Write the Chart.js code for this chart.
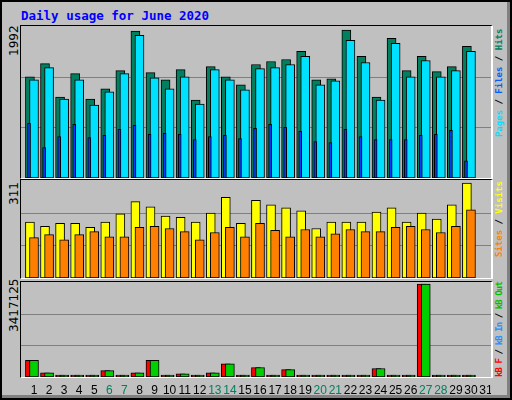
<!DOCTYPE html>
<html>
<head>
<meta charset="utf-8">
<script src="https://cdn.jsdelivr.net/npm/chart.js@4/dist/chart.umd.min.js"></script>
<style>
  body { margin: 0; background: #fff; }
  #frame { position: absolute; left: 0; top: 0; width: 508px; height: 396px; background: #C0C0C0;
           border: 2px solid #000; box-shadow: inset -3px -3px 0 #808080; overflow: hidden; }
  .title { position: absolute; left: 19px; top: 6px; font: bold 12.5px "DejaVu Sans Mono", monospace; color: #0000FF; }
  .panel { position: absolute; left: 18px; width: 470px; border-top: 1px solid #000; border-left: 1px solid #000;
           border-right: 2px solid #fff; border-bottom: 1px solid #fff; }
  .panel canvas { position: absolute; left: 0; top: 0; }
  .vtick { position: absolute; transform-origin: 0 0; transform: rotate(-90deg); font: 12px "DejaVu Sans", sans-serif; color: #000; white-space: nowrap; }
  .vlabel { position: absolute; transform-origin: 0 0; transform: rotate(-90deg); font: bold 9px "DejaVu Sans Mono", monospace; white-space: nowrap; }
</style>
</head>
<body>
<div id="frame">
  <div class="title">Daily usage for June 2020</div>
  <div class="panel" style="top:23px;height:152px"><canvas id="c1"></canvas></div>
  <div class="panel" style="top:177px;height:98px"><canvas id="c2"></canvas></div>
  <div class="panel" style="top:279px;height:95px"><canvas id="c3"></canvas></div>
  <div class="vtick" style="left:5px;top:54px">1992</div>
  <div class="vtick" style="left:5px;top:203px">311</div>
  <div class="vtick" style="left:5px;top:330px">3417125</div>
  <div class="vlabel" style="left:492px;top:135px"><span style="color:#00E0FF">Pages</span> / <span style="color:#0060FF">Files</span> / <span style="color:#00805F">Hits</span></div>
  <div class="vlabel" style="left:492px;top:255px"><span style="color:#FF8000">Sites</span> / <span style="color:#FFFF00">Visits</span></div>
  <div class="vlabel" style="left:492px;top:375px;letter-spacing:-0.9px"><span style="color:#FF0000">kB F</span> / <span style="color:#1E90FF">kB In</span> / <span style="color:#00C000">kB Out</span></div>
</div>
<script>
const days = Array.from({ length: 30 }, (_, i) => i + 1);
const dayLabels = ["1","2","3","4","5","6","7","8","9","10","11","12","13","14","15","16","17","18","19","20","21","22","23","24","25","26","27","28","29","30","31"];
const weekendDays = [6, 7, 13, 14, 20, 21, 27, 28];

const hits = [1364,1541,1091,1405,1064,1200,1446,1980,1419,1323,1460,1050,1500,1364,1255,1528,1569,1596,1705,1323,1337,1992,1637,1091,1882,1446,1637,1432,1500,1773];
const files = [1323,1487,1064,1323,982,1159,1405,1923,1350,1200,1364,996,1459,1323,1187,1473,1487,1528,1637,1255,1309,1855,1555,1050,1814,1364,1582,1364,1446,1705];
const pages = [737,409,559,723,546,573,655,709,587,600,587,518,559,573,532,668,723,682,627,491,477,655,559,518,518,518,573,587,641,232];

const visits = [183,169,179,179,166,183,210,250,233,203,199,183,213,264,179,254,240,230,220,162,183,183,183,216,230,183,213,193,240,311];
const sites = [132,142,125,142,152,135,135,166,169,162,152,125,149,166,135,179,156,135,159,135,145,159,152,152,166,169,159,149,169,223];

const kbF = [611000,150000,0,0,0,237000,0,150000,611000,0,112000,0,150000,486000,0,349000,0,274000,0,0,0,0,0,312000,0,0,3417125,0,0,0];
const kbOut = [611000,150000,0,0,0,237000,0,150000,611000,0,112000,0,150000,486000,0,349000,0,274000,0,0,0,0,0,312000,0,0,3417125,0,0,0];

const gridPlugin = {
  id: 'thirds',
  beforeDatasetsDraw(chart) {
    const { ctx, chartArea: a } = chart;
    ctx.save();
    ctx.strokeStyle = '#808080';
    ctx.lineWidth = 1;
    [1, 2].forEach(k => {
      const y = Math.round(a.bottom - (a.bottom - a.top) * k / 3) + 0.5;
      ctx.beginPath(); ctx.moveTo(a.left, y); ctx.lineTo(a.right, y); ctx.stroke();
    });
    ctx.restore();
  }
};

const labelPlugin = {
  id: 'days',
  afterDraw(chart) {
    if (!chart.options.plugins.days) return;
    const { ctx, chartArea: a } = chart;
    const x = chart.scales.x;
    ctx.save();
    ctx.font = '12px "Liberation Sans", sans-serif';
    ctx.textAlign = 'center';
    ctx.textBaseline = 'middle';
    dayLabels.forEach((lab, i) => {
      ctx.fillStyle = weekendDays.includes(i + 1) ? '#00805F' : '#000';
      ctx.fillText(lab, x.getPixelForValue(i + 1), a.bottom + 14);
    });
    ctx.restore();
  }
};

function pts(arr, off) {
  return arr.map((v, i) => ({ x: days[i] + off, y: v }));
}

function bar(label, data, off, color, width, order, minLen) {
  return {
    label, data: pts(data, off), backgroundColor: color, borderColor: '#000',
    borderWidth: 1, borderSkipped: false, barThickness: width, order,
    minBarLength: minLen || 0, grouped: false
  };
}

function makeChart(id, w, h, datasets, max, padBottom, showDays) {
  const cv = document.getElementById(id);
  cv.width = w; cv.height = h + padBottom;
  cv.style.width = w + 'px'; cv.style.height = (h + padBottom) + 'px';
  return new Chart(cv, {
    type: 'bar',
    data: { datasets },
    options: {
      responsive: false,
      animation: false,
      layout: { padding: { left: 0, right: 0, top: 0, bottom: padBottom } },
      plugins: { legend: { display: false }, tooltip: { enabled: false }, days: showDays },
      scales: {
        x: { type: 'linear', display: false, min: 0.137, max: 31.33, offset: false },
        y: { display: false, min: 0, max }
      }
    },
    plugins: [gridPlugin, labelPlugin]
  });
}

makeChart('c1', 470, 152, [
  bar('Hits', hits, -0.27, '#00805F', 9, 3),
  bar('Files', files, 0, '#00E0FF', 9, 2),
  bar('Pages', pages, -0.33, '#0040FF', 3, 1)
], 2047, 0, false);

makeChart('c2', 470, 98, [
  bar('Visits', visits, -0.27, '#FFFF00', 9, 2),
  bar('Sites', sites, 0, '#FF8000', 9, 1)
], 321, 0, false);

makeChart('c3', 470, 95, [
  bar('kB F', kbF, -0.27, '#FF0000', 9, 2, 2),
  bar('kB Out', kbOut, 0, '#00D000', 9, 1, 2)
], 3492228, 24, true);
</script>
</body>
</html>
